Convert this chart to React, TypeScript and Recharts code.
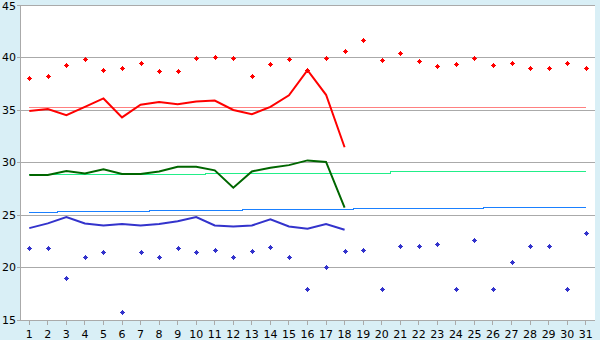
import React from "react";
import {
    CartesianGrid,
    ComposedChart,
    Line,
    XAxis,
    YAxis,
} from "recharts";

const days = [
    "1", "2", "3", "4", "5", "6", "7", "8", "9", "10", "11", "12", "13", "14", "15", "16",
    "17", "18", "19", "20", "21", "22", "23", "24", "25", "26", "27", "28", "29", "30", "31",
];

const redPoints = [
    38.0, 38.2, 39.3, 39.85, 38.8, 39.0, 39.5, 38.7, 38.7, 39.95, 40.05, 39.95, 38.2, 39.4, 39.85, 38.8,
    39.95, 40.6, 41.7, 39.75, 40.4, 39.65, 39.2, 39.4, 39.95, 39.3, 39.5, 39.0, 39.0, 39.5, 39.0,
];

const redLine = [
    34.9, 35.1, 34.5, 35.3, 36.1, 34.3, 35.5, 35.75, 35.55, 35.8, 35.9, 35.0, 34.6, 35.3, 36.4, 38.8,
    36.45, 31.45,
];

const redAvg = [
    35.2, 35.2, 35.2, 35.2, 35.2, 35.2, 35.2, 35.2, 35.2, 35.2, 35.2, 35.2, 35.2, 35.2, 35.2, 35.2,
    35.2, 35.2, 35.2, 35.2, 35.2, 35.2, 35.2, 35.2, 35.2, 35.2, 35.2, 35.2, 35.2, 35.2, 35.2,
];

const greenLine = [
    28.8, 28.8, 29.2, 28.95, 29.35, 28.9, 28.9, 29.15, 29.6, 29.6, 29.25, 27.6, 29.15, 29.5, 29.75, 30.2,
    30.05, 25.7,
];

const greenAvg = [
    28.88, 28.88, 28.88, 28.88, 28.88, 28.88, 28.88, 28.88, 28.88, 28.88, 28.97, 28.97, 28.97, 28.97,
    28.97, 28.97, 28.97, 28.97, 28.97, 28.97, 29.15, 29.15, 29.15, 29.15, 29.15, 29.15, 29.15, 29.15,
    29.15, 29.15, 29.15,
];

const blueLine = [
    23.75, 24.2, 24.8, 24.2, 24.0, 24.15, 24.0, 24.15, 24.4, 24.8, 24.0, 23.9, 24.0, 24.6, 23.9, 23.7,
    24.15, 23.6,
];

const blueAvg = [
    25.22, 25.22, 25.31, 25.31, 25.31, 25.31, 25.31, 25.4, 25.4, 25.4, 25.4, 25.4, 25.48, 25.48, 25.48,
    25.48, 25.48, 25.48, 25.58, 25.58, 25.58, 25.58, 25.58, 25.58, 25.58, 25.68, 25.68, 25.68, 25.68,
    25.68, 25.68,
];

const bluePoints = [
    21.85, 21.85, 19.0, 21.0, 21.5, 15.75, 21.5, 21.0, 21.85, 21.5, 21.67, 21.0, 21.6, 21.95, 21.0, 18.0,
    20.05, 21.6, 21.67, 18.0, 22.05, 22.05, 22.2, 18.0, 22.6, 18.0, 20.5, 22.05, 22.05, 18.0, 23.3,
];

const yTicks = [15, 20, 25, 30, 35, 40, 45];

const data = days.map((day, i) => ({
    day,
    redPt: redPoints[i],
    redLine: redLine[i] ?? null,
    redAvg: redAvg[i],
    greenLine: greenLine[i] ?? null,
    greenAvg: greenAvg[i],
    blueLine: blueLine[i] ?? null,
    blueAvg: blueAvg[i],
    bluePt: bluePoints[i],
}));

const GRID = "#aaaaaa";
const tickStyle = { fontFamily: "DejaVu Sans", fontSize: 11, fill: "#000" };

function plusDot(color: string) {
    return (props: any) => {
        const { cx, cy, index } = props;
        if (cx == null || cy == null) return <g key={`${color}-${index}`} />;
        const x = Math.round(cx);
        const y = Math.round(cy);
        return (
            <g key={`${color}-${index}`} shapeRendering="crispEdges">
                <rect x={x - 1.5} y={y - 1.5} width={3} height={3} fill={color} />
                <rect x={x - 0.5} y={y - 2.5} width={1} height={5} fill={color} />
                <rect x={x - 2.5} y={y - 0.5} width={5} height={1} fill={color} />
            </g>
        );
    };
}

export default function App() {
    return (
        <div style={{ width: 600, height: 340, background: "#d9eff6" }}>
            <style>{`
                body { margin: 0; }
                .recharts-cartesian-grid line,
                .recharts-cartesian-axis-line,
                .recharts-cartesian-axis-tick-line,
                .thin-step path { shape-rendering: crispEdges; }
            `}</style>
            <ComposedChart
                width={600}
                height={340}
                data={data}
                margin={{ top: 5, right: 5, left: 0, bottom: 0 }}
            >
                <CartesianGrid
                    vertical={false}
                    stroke={GRID}
                    fill="#ffffff"
                    fillOpacity={1}
                />
                <XAxis
                    dataKey="day"
                    scale="band"
                    height={20}
                    interval={0}
                    tickSize={5}
                    tickMargin={5}
                    stroke={GRID}
                    tick={tickStyle}
                />
                <YAxis
                    domain={[15, 45]}
                    ticks={yTicks}
                    width={20}
                    tickSize={3}
                    tickMargin={1}
                    stroke={GRID}
                    tick={tickStyle}
                    allowDataOverflow
                />
                <YAxis
                    yAxisId="r"
                    orientation="right"
                    domain={[15, 45]}
                    width={0}
                    tick={false}
                    tickLine={false}
                    stroke={GRID}
                />
                <Line
                    className="thin-step"
                    type="step"
                    dataKey="redAvg"
                    stroke="#ff8080"
                    strokeWidth={1}
                    dot={false}
                    activeDot={false}
                    isAnimationActive={false}
                />
                <Line
                    className="thin-step"
                    type="step"
                    dataKey="greenAvg"
                    stroke="#22ee88"
                    strokeWidth={1}
                    dot={false}
                    activeDot={false}
                    isAnimationActive={false}
                />
                <Line
                    className="thin-step"
                    type="step"
                    dataKey="blueAvg"
                    stroke="#1a80ff"
                    strokeWidth={1}
                    dot={false}
                    activeDot={false}
                    isAnimationActive={false}
                />
                <Line
                    type="linear"
                    dataKey="redLine"
                    stroke="#ff0000"
                    strokeWidth={2}
                    dot={false}
                    activeDot={false}
                    isAnimationActive={false}
                />
                <Line
                    type="linear"
                    dataKey="greenLine"
                    stroke="#006600"
                    strokeWidth={2}
                    dot={false}
                    activeDot={false}
                    isAnimationActive={false}
                />
                <Line
                    type="linear"
                    dataKey="blueLine"
                    stroke="#3333cc"
                    strokeWidth={2}
                    dot={false}
                    activeDot={false}
                    isAnimationActive={false}
                />
                <Line
                    type="linear"
                    dataKey="redPt"
                    stroke="none"
                    strokeWidth={0}
                    dot={plusDot("#ff0000")}
                    activeDot={false}
                    isAnimationActive={false}
                />
                <Line
                    type="linear"
                    dataKey="bluePt"
                    stroke="none"
                    strokeWidth={0}
                    dot={plusDot("#3333cc")}
                    activeDot={false}
                    isAnimationActive={false}
                />
            </ComposedChart>
        </div>
    );
}
